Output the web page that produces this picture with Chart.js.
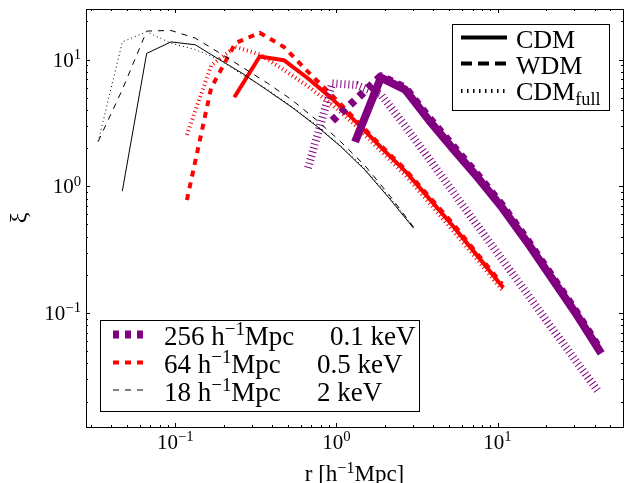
<!DOCTYPE html>
<html><head><meta charset="utf-8">
<script src="https://cdn.jsdelivr.net/npm/chart.js@4/dist/chart.umd.min.js"></script>
<style>html,body{margin:0;padding:0;background:#fff;}canvas{display:block;}</style>
</head><body>
<canvas id="c" width="625" height="483"></canvas>
<script>
// ---- data ----
const rBlack  = [0.0332, 0.0469, 0.0664, 0.0939, 0.133, 0.188, 0.265, 0.375, 0.53, 0.75, 1.06, 1.5, 2.12, 3.0];
const xiBlackCDM  = [null, 0.92, 11.2, 13.8, 13.1, 10.0, 7.7, 5.7, 4.2, 3.0, 2.07, 1.35, 0.81, 0.47];
const xiBlackWDM  = [2.26, 5.8, 16.8, 17.0, 14.8, 11.3, 8.6, 6.5, 4.8, 3.35, 2.26, 1.46, 0.86, 0.48];
const xiBlackFull = [2.26, 13.8, 16.6, 13.5, 12.0, 10.0, 7.5, 5.8, 4.25, 3.05, 2.1, 1.38, 0.83, 0.48];

const rRed  = [0.118, 0.167, 0.236, 0.334, 0.472, 0.667, 0.943, 1.334, 1.887, 2.67, 3.77, 5.34, 7.55, 10.67];
const xiRedCDM  = [null, null, 5.2, 10.6, 9.9, 7.1, 4.9, 3.2, 2.04, 1.32, 0.80, 0.48, 0.28, 0.163];
const xiRedWDM  = [0.78, 6.0, 13.5, 16.3, 12.6, 8.0, 5.2, 3.3, 2.1, 1.36, 0.83, 0.50, 0.29, 0.17];
const xiRedFull = [2.55, 9.0, 12.6, 11.0, 8.3, 6.15, 4.4, 2.97, 1.9, 1.23, 0.74, 0.44, 0.26, 0.152];

const rPurple = [0.472, 0.667, 0.943, 1.334, 1.887, 2.67, 3.77, 5.34, 7.55, 10.67, 15.1, 21.3, 30.2, 42.7];
const xiPurpleCDM  = [null, null, null, 2.4, 7.2, 5.8, 3.3, 1.95, 1.17, 0.68, 0.37, 0.195, 0.102, 0.051];
const xiPurpleWDM  = [null, null, 3.3, 4.9, 7.4, 6.0, 3.45, 2.05, 1.22, 0.71, 0.385, 0.203, 0.106, 0.053];
const xiPurpleFull = [null, 1.40, 6.5, 6.3, 5.3, 3.0, 1.64, 0.89, 0.485, 0.265, 0.145, 0.079, 0.043, 0.0235];

const xTickValues = [0.1, 1, 10];
const xTickExp = ['−1', '0', '1'];
const yTickValues = [0.1, 1, 10];
const yTickExp = ['−1', '0', '1'];

const seriesLabels = [
  {size: '256', kev: '0.1 keV'},
  {size: '64', kev: '0.5 keV'},
  {size: '18', kev: '2 keV'}
];
const typeLabels = ['CDM', 'WDM', 'CDM'];

// ---- styles ----
const FONT = '"Liberation Serif", "Times New Roman", serif';
const PURPLE = '#800080', RED = '#ff0000', BLACK = '#000000';
const X_MIN = 0.0279, X_MAX = 60.1, Y_MIN = 0.0126, Y_MAX = 25.1;

function pts(r, v) { const o = []; r.forEach((x, i) => { if (v[i] != null) o.push({x: x, y: v[i]}); }); return o; }
function ds(r, v, color, w, kind) {
  const d = {data: pts(r, v), borderColor: color, borderWidth: w, pointRadius: 0, tension: 0, fill: false,
    borderJoinStyle: 'round'};
  if (kind === 'solid') { d.borderCapStyle = 'square'; }
  else if (kind === 'dashed') { d.borderDash = [6, 6]; d.borderCapStyle = 'butt'; }
  else { d.borderDash = [1, 3]; d.borderCapStyle = 'butt'; }
  return d;
}

const datasets = [
  ds(rBlack, xiBlackCDM, BLACK, 1, 'solid'),
  ds(rBlack, xiBlackWDM, BLACK, 1, 'dashed'),
  ds(rBlack, xiBlackFull, BLACK, 1, 'dotted'),
  ds(rPurple, xiPurpleCDM, PURPLE, 8, 'solid'),
  ds(rPurple, xiPurpleWDM, PURPLE, 8, 'dashed'),
  ds(rPurple, xiPurpleFull, PURPLE, 8, 'dotted'),
  ds(rRed, xiRedCDM, RED, 4, 'solid'),
  ds(rRed, xiRedWDM, RED, 4, 'dashed'),
  ds(rRed, xiRedFull, RED, 4, 'dotted')
];

function drawParts(ctx, parts, x, y, size, align) {
  const widths = parts.map(p => { ctx.font = (p[1] === 'n' ? size : size * 0.7) + 'px ' + FONT; return ctx.measureText(p[0]).width; });
  const total = widths.reduce((a, b) => a + b, 0);
  let cx = align === 'center' ? x - total / 2 : align === 'right' ? x - total : x;
  ctx.textAlign = 'left'; ctx.textBaseline = 'alphabetic';
  parts.forEach((p, i) => {
    ctx.font = (p[1] === 'n' ? size : size * 0.7) + 'px ' + FONT;
    const dy = p[1] === 'sup' ? -0.36 * size : p[1] === 'sub' ? 0.2 * size : 0;
    ctx.fillText(p[0], cx, y + dy);
    cx += widths[i];
  });
  return total;
}

const decor = {
  id: 'decor',
  afterDraw(chart) {
    const ctx = chart.ctx, a = chart.chartArea, xs = chart.scales.x, ys = chart.scales.y;
    ctx.save();
    ctx.strokeStyle = '#000'; ctx.fillStyle = '#000'; ctx.lineWidth = 1;
    ctx.beginPath();
    for (let e = -3; e <= 2; e++) for (let m = 1; m <= 9; m++) {
      const v = m * Math.pow(10, e);
      const len = m === 1 ? 4 : 2;
      if (v >= X_MIN && v <= X_MAX) {
        const px = Math.round(xs.getPixelForValue(v)) + 0.5;
        ctx.moveTo(px, a.bottom); ctx.lineTo(px, a.bottom - len);
        ctx.moveTo(px, a.top); ctx.lineTo(px, a.top + len);
      }
      if (v >= Y_MIN && v <= Y_MAX) {
        const py = Math.round(ys.getPixelForValue(v)) + 0.5;
        ctx.moveTo(a.left, py); ctx.lineTo(a.left + len, py);
        ctx.moveTo(a.right, py); ctx.lineTo(a.right - len, py);
      }
    }
    ctx.stroke();
    ctx.strokeRect(Math.round(a.left) + 0.5, Math.round(a.top) + 0.5, Math.round(a.right - a.left), Math.round(a.bottom - a.top));
    xTickValues.forEach((v, i) => {
      drawParts(ctx, [['10', 'n'], [xTickExp[i], 'sup']], xs.getPixelForValue(v), 449, 21, 'center');
    });
    yTickValues.forEach((v, i) => {
      drawParts(ctx, [['10', 'n'], [yTickExp[i], 'sup']], 81, ys.getPixelForValue(v) + 7, 21, 'right');
    });
    drawParts(ctx, [['r [h', 'n'], ['−1', 'sup'], ['Mpc]', 'n']], (a.left + a.right) / 2, 481, 23, 'center');
    ctx.save();
    ctx.translate(26, (a.top + a.bottom) / 2);
    ctx.rotate(-Math.PI / 2);
    drawParts(ctx, [['ξ', 'n']], 0, 0, 24, 'center');
    ctx.restore();

    // legend 1 (line types)
    ctx.fillStyle = '#fff';
    ctx.fillRect(452.5, 24.5, 157, 86);
    ctx.strokeStyle = '#000'; ctx.lineWidth = 1;
    ctx.strokeRect(452.5, 24.5, 157, 86);
    const l1y = [37.5, 63.5, 91];
    const l1dash = [[], [11, 6], [1.5, 4.5]];
    l1y.forEach((y, i) => {
      ctx.beginPath(); ctx.setLineDash(l1dash[i]); ctx.lineWidth = 4; ctx.lineCap = 'butt'; ctx.strokeStyle = '#000';
      ctx.moveTo(461, y); ctx.lineTo(507, y); ctx.stroke();
    });
    ctx.setLineDash([]);
    ctx.fillStyle = '#000';
    drawParts(ctx, [[typeLabels[0], 'n']], 516, l1y[0] + 10, 26, 'left');
    drawParts(ctx, [[typeLabels[1], 'n']], 516, l1y[1] + 10, 26, 'left');
    drawParts(ctx, [[typeLabels[2], 'n'], ['full', 'sub']], 516, l1y[2] + 9, 26, 'left');

    // legend 2 (box sizes)
    ctx.fillStyle = '#fff';
    ctx.fillRect(100.5, 320.5, 319, 91);
    ctx.strokeStyle = '#000'; ctx.lineWidth = 1;
    ctx.strokeRect(100.5, 320.5, 319, 91);
    const l2y = [334.5, 362.5, 390];
    const l2c = [PURPLE, RED, BLACK], l2w = [8, 4, 1];
    const kevX = [330, 317, 317];
    l2y.forEach((y, i) => {
      ctx.beginPath(); ctx.setLineDash([6, 6]); ctx.lineWidth = l2w[i]; ctx.lineCap = 'butt'; ctx.strokeStyle = l2c[i];
      ctx.moveTo(113, y); ctx.lineTo(149, y); ctx.stroke();
      ctx.setLineDash([]);
      ctx.fillStyle = '#000';
      drawParts(ctx, [[seriesLabels[i].size + ' h', 'n'], ['−1', 'sup'], ['Mpc', 'n']], 164, y + 10.5, 27, 'left');
      drawParts(ctx, [[seriesLabels[i].kev, 'n']], kevX[i], y + 10.5, 27, 'left');
    });
    ctx.restore();
  }
};

new Chart(document.getElementById('c'), {
  type: 'line',
  data: {datasets: datasets},
  options: {
    responsive: false, animation: false, devicePixelRatio: 1,
    layout: {padding: {left: 86, right: 2, top: 9, bottom: 56}},
    plugins: {legend: {display: false}, tooltip: {enabled: false}},
    scales: {
      x: {type: 'logarithmic', min: X_MIN, max: X_MAX, display: false},
      y: {type: 'logarithmic', min: Y_MIN, max: Y_MAX, display: false}
    }
  },
  plugins: [decor]
});
</script>
</body></html>
